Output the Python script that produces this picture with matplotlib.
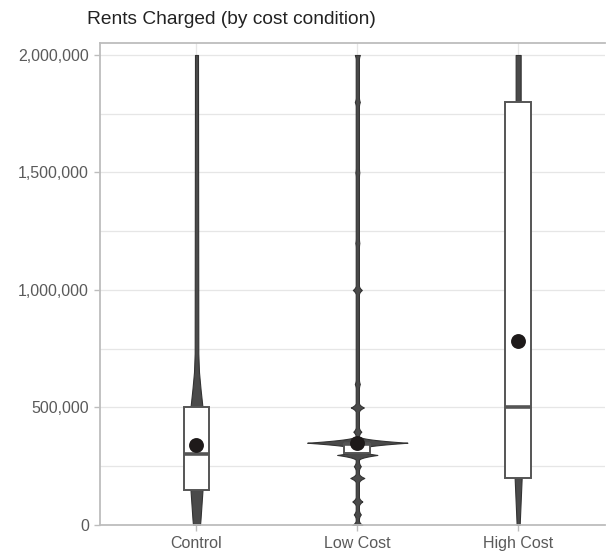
import numpy as np
import matplotlib.pyplot as plt

plt.rcParams['font.family'] = ['Liberation Sans', 'DejaVu Sans']

# summary values per cost condition
groups = ["Control", "Low Cost", "High Cost"]
q1 = [150000, 305000, 200000]
median = [300000, 345000, 500000]
q3 = [500000, 345000, 1800000]
means = [340000, 350000, 785000]

# violin outlines (rent level, relative density)
control_rent = [0, 25000, 150000, 300000, 500000, 580000, 650000, 730000, 2000000]
control_dens = [3.5, 4.0, 6.0, 6.0, 6.0, 4.0, 2.5, 1.8, 1.5]

high_rent = [0, 200000, 1800000, 2000000]
high_dens = [1.5, 3.5, 2.5, 2.5]

# low cost is very lumpy: modes at round numbers
low_modes = [0, 45000, 100000, 200000, 250000, 298000, 350000, 397000, 500000,
             600000, 1000000, 1200000, 1500000, 1800000, 2000000]
low_dens = [5.0, 3.5, 5.0, 7.0, 3.5, 20.0, 50.0, 4.0, 6.5,
            2.5, 4.5, 2.0, 2.0, 2.5, 2.5]
low_base = 1.6

dens_scale = 1 / 160.5
violin_face = '#4a4a4a'
violin_edge = '#333333'

fig = plt.figure(figsize=(6.06, 5.54), dpi=100)
ax = fig.add_axes([100/606, 29/554, 505/606, 482/554])


def draw_violin(pos, rent, dens):
    rent = np.asarray(rent, dtype=float)
    d = np.asarray(dens) * dens_scale
    ax.fill_betweenx(rent, pos - d, pos + d, facecolor=violin_face,
                     edgecolor=violin_edge, linewidth=0.8, zorder=2)


# low cost profile built from its modes
yy = np.linspace(0, 2000000, 4001)
prof = np.full_like(yy, low_base)
for lvl, w in zip(low_modes, low_dens):
    span = 28000 if w > 30 else (22000 if w > 10 else 20000)
    bump = low_base + (w - low_base) * np.clip(1 - np.abs(yy - lvl) / span, 0, None) ** 2
    prof = np.maximum(prof, bump)

draw_violin(0, control_rent, control_dens)
draw_violin(1, yy, prof)
draw_violin(2, high_rent, high_dens)

# boxes, medians and means
bw = 0.16
for i in range(len(groups)):
    ax.bar(i, q3[i] - q1[i], bottom=q1[i], width=bw, color='white',
           edgecolor='#555555', linewidth=1.4, zorder=3)
    ax.plot([i - bw/2, i + bw/2], [median[i], median[i]], color='#555555',
            lw=2.6, zorder=4, solid_capstyle='butt')
ax.scatter(range(len(groups)), means, s=115, color='#1e1a1a', zorder=5,
           linewidths=0)

ax.set_xlim(-0.6, 2.54)
ax.set_ylim(0, 2051000)

major = [0, 500000, 1000000, 1500000, 2000000]
ax.set_yticks(major)
ax.set_yticklabels([f"{v:,}" for v in major])
ax.set_yticks([250000, 750000, 1250000, 1750000], minor=True)
ax.set_xticks(range(len(groups)))
ax.set_xticklabels(groups)

ax.grid(True, which='both', color='#e6e6e6', linewidth=0.9, zorder=0)
ax.set_axisbelow(True)
ax.tick_params(axis='both', which='major', colors='#bdbdbd', labelcolor='#5a5a5a',
               labelsize=11.5, length=4, width=1, pad=4)
ax.tick_params(axis='y', which='minor', length=0)

for side in ['left', 'bottom', 'top']:
    ax.spines[side].set_color('#bdbdbd')
    ax.spines[side].set_linewidth(1.3)
ax.spines['right'].set_visible(False)

fig.text(87/606, 1 - 20/554, "Rents Charged (by cost condition)", fontsize=13.8,
         color='#222222', va='center', ha='left')

fig.savefig("out.png", dpi=100)
